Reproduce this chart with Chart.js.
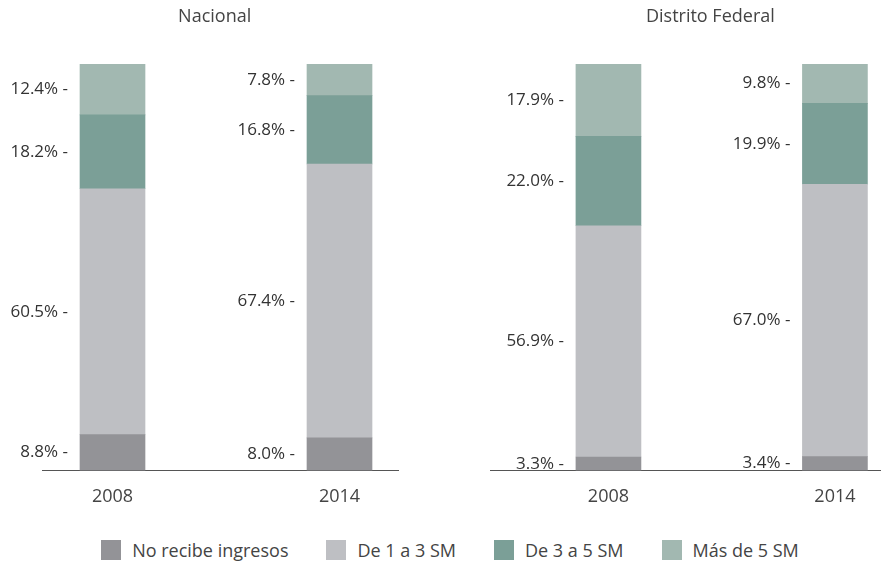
<!DOCTYPE html>
<html>
<head>
<meta charset="utf-8">
<script src="https://cdn.jsdelivr.net/npm/chart.js@4.4.1/dist/chart.umd.min.js"></script>
<style>
  body { margin: 0; background: #fff; width: 882px; height: 563px; overflow: hidden; position: relative; font-family: "Open Sans", sans-serif; }
  canvas { position: absolute; top: 0; }
  #left { left: 0; }
  #right { left: 441px; }
  #legend { position: absolute; top: 538px; left: 0; width: 882px; display: flex; justify-content: center; gap: 38px; color: #444; font-size: 18px; line-height: 24px; padding-left: 18px; box-sizing: border-box; }
  #legend span.item { display: flex; align-items: center; }
  #legend i { display: inline-block; width: 20px; height: 20px; margin-right: 11px; }
</style>
</head>
<body>
<canvas id="left" width="441" height="530"></canvas>
<canvas id="right" width="441" height="530"></canvas>
<div id="legend"></div>
<script>
const years = ["2008", "2014"];
const seriesNames = ["No recibe ingresos", "De 1 a 3 SM", "De 3 a 5 SM", "Más de 5 SM"];
const colors = ["#939397", "#bebfc3", "#7b9f97", "#a2b8b1"];

// Nacional
const nacNoRecibe = [8.8, 8.0];
const nacDe1a3 = [60.5, 67.4];
const nacDe3a5 = [18.2, 16.8];
const nacMas5 = [12.4, 7.8];

// Distrito Federal
const dfNoRecibe = [3.3, 3.4];
const dfDe1a3 = [56.9, 67.0];
const dfDe3a5 = [22.0, 19.9];
const dfMas5 = [17.9, 9.8];

const FONT = "'Open Sans', sans-serif";

function makeDatasets(series) {
    return series.map(function (vals, s) {
        return {
            label: seriesNames[s],
            data: vals.map(function (v, i) { return { x: i, y: v }; }),
            backgroundColor: colors[s],
            borderWidth: 0,
            barThickness: 65
        };
    });
}

// percent labels to the left of each segment
const segLabels = {
    id: "segLabels",
    afterDatasetsDraw(chart) {
        const ctx = chart.ctx;
        ctx.save();
        ctx.font = "17px " + FONT;
        ctx.fillStyle = "#333";
        ctx.textAlign = "right";
        ctx.textBaseline = "middle";
        chart.data.datasets.forEach(function (ds, d) {
            chart.getDatasetMeta(d).data.forEach(function (bar, i) {
                const p = bar.getProps(["x", "y", "base", "width"], true);
                ctx.fillText(ds.data[i].y.toFixed(1) + "% -", p.x - p.width / 2 - 12, (p.y + p.base) / 2);
            });
        });
        ctx.restore();
    }
};

const panelTitle = {
    id: "panelTitle",
    afterDraw(chart, args, opts) {
        const ctx = chart.ctx;
        ctx.save();
        ctx.font = "18px " + FONT;
        ctx.fillStyle = "#444";
        ctx.textAlign = "center";
        ctx.textBaseline = "middle";
        ctx.fillText(opts.text, chart.scales.x.getPixelForValue(0.45), 17);
        ctx.restore();
    }
};

function makeChart(id, title, series, xMin, xMax, padLeft, padRight) {
    return new Chart(document.getElementById(id), {
        type: "bar",
        data: { datasets: makeDatasets(series) },
        plugins: [segLabels, panelTitle],
        options: {
            responsive: false,
            animation: false,
            layout: { padding: { top: 64, bottom: 14, left: padLeft, right: padRight } },
            plugins: {
                legend: { display: false },
                tooltip: { enabled: false },
                panelTitle: { text: title }
            },
            scales: {
                x: {
                    type: "linear",
                    stacked: true,
                    min: xMin,
                    max: xMax,
                    offset: false,
                    grid: { display: false },
                    border: { display: true, color: "#555", width: 1 },
                    afterBuildTicks: function (scale) {
                        scale.ticks = years.map(function (y, i) { return { value: i }; });
                    },
                    ticks: {
                        padding: 8,
                        color: "#444",
                        font: { family: FONT, size: 18 },
                        callback: function (v) { return years[v]; }
                    }
                },
                y: {
                    stacked: true,
                    display: false,
                    min: 0,
                    max: 100
                }
            }
        }
    });
}

makeChart("left", "Nacional", [nacNoRecibe, nacDe1a3, nacDe3a5, nacMas5], -0.3106, 1.2577, 42, 43);
makeChart("right", "Distrito Federal", [dfNoRecibe, dfDe1a3, dfDe3a5, dfMas5], -0.523, 1.199, 49, 2);

const legend = document.getElementById("legend");
seriesNames.forEach(function (name, s) {
    const item = document.createElement("span");
    item.className = "item";
    const box = document.createElement("i");
    box.style.background = colors[s];
    item.appendChild(box);
    item.appendChild(document.createTextNode(name));
    legend.appendChild(item);
});
</script>
</body>
</html>
